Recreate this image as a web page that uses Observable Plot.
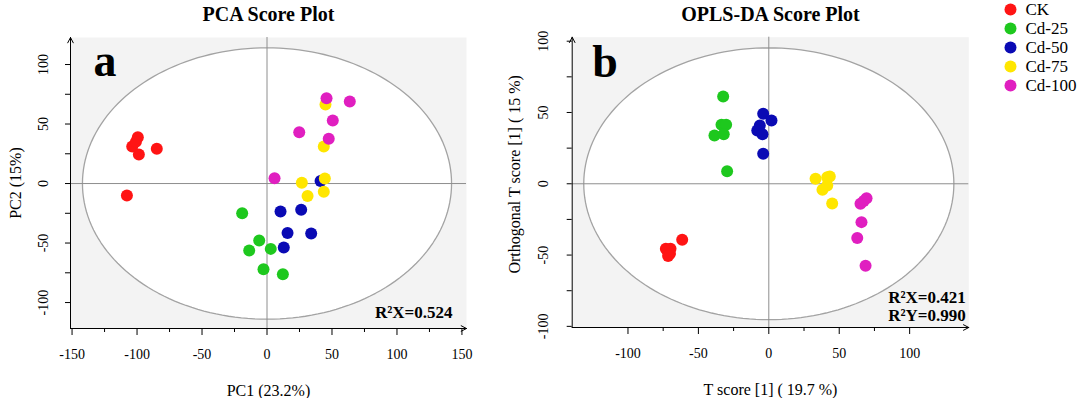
<!DOCTYPE html>
<html><head><meta charset="utf-8">
<script src="https://cdn.jsdelivr.net/npm/d3@7"></script>
<script src="https://cdn.jsdelivr.net/npm/@observablehq/plot@0.6"></script>
<style>
html,body{margin:0;padding:0;background:#fff;}
#wrap{position:relative;width:1080px;height:398px;overflow:hidden;font-family:"Liberation Serif","Times New Roman",serif;}
#wrap svg{position:absolute;top:0;}
</style></head><body><div id="wrap"></div>
<script>
const groups = ["CK", "Cd-25", "Cd-50", "Cd-75", "Cd-100"];
const colors = ["#ff1414", "#1ec81e", "#0a0ab4", "#ffe600", "#e01fc0"];

// PCA scores [PC1, PC2]
const ckPCA    = [[-99.4, 38.9], [-103.7, 31.1], [-100.9, 35], [-98.6, 24.4], [-84.8, 29.2], [-107.8, -10.1]];
const cd25PCA  = [[-19.1, -25], [-6, -47.9], [-13.7, -56.3], [2.9, -54.9], [-2.7, -72], [12.2, -76.2]];
const cd50PCA  = [[10.4, -23.5], [26.3, -22.1], [15.8, -41.5], [34, -42], [12.9, -53.8], [41.2, 2.2]];
const cd75PCA  = [[45, 66.4], [43.7, 31.1], [26.8, 0.6], [44.5, 4.2], [31.2, -10.4], [43.7, -7]];
const cd100PCA = [[45.8, 71.7], [63.7, 68.9], [50.6, 52.9], [24.8, 43.1], [47.5, 37.6], [5.8, 4.5]];

// OPLS-DA scores [T score, Orthogonal T score]
const ckOPLS    = [[-61.5, -39.3], [-73.1, -45.6], [-69.8, -45.6], [-72, -47], [-70.2, -49], [-71.5, -50.7]];
const cd25OPLS  = [[-32.4, 61.2], [-33.6, 41.4], [-30.3, 41.4], [-38.6, 33.9], [-32, 34.8], [-29.6, 8.8]];
const cd50OPLS  = [[-4, 49.1], [1.9, 44.4], [-6.4, 40.9], [-8.2, 37.4], [-4.5, 34.8], [-4, 21]];
const cd75OPLS  = [[33.2, 3.5], [43.3, 5.1], [41.5, 4.6], [41.5, -1.2], [38.1, -4.2], [45, -13.8]];
const cd100OPLS = [[69.4, -10.1], [67.4, -12], [65.1, -14], [65.8, -26.9], [62.8, -38.1], [68.7, -57.5]];

const pcaXTicks = [-150, -100, -50, 0, 50, 100, 150];
const pcaXMinor = [-125, -75, -25, 25, 75, 125];
const pcaYTicks = [-100, -50, 0, 50, 100];
const pcaYMinor = [-75, -25, 25, 75];
const oplsXTicks = [-100, -50, 0, 50, 100];
const oplsXMinor = [-75, -25, 25, 75];
const oplsYTicks = [-100, -50, 0, 50, 100];
const oplsYMinor = [-75, -25, 25, 75];

// Hotelling T2 ellipse semi-axes (x, y)
const pcaEllipse = [142, 114];
const oplsEllipse = [131.4, 95.3];

function table(sets) {
  const rows = [];
  sets.forEach((s, i) => s.forEach(([x, y]) => rows.push({group: groups[i], x, y})));
  return rows;
}
function ellipse([a, b]) {
  const pts = [];
  for (let i = 0; i <= 180; i++) {
    const t = (i / 180) * 2 * Math.PI;
    pts.push({x: a * Math.cos(t), y: b * Math.sin(t)});
  }
  return pts;
}

const FONT = '"Liberation Serif","Times New Roman",serif';

function panel(o) {
  const xd = o.xDomain, yd = o.yDomain;
  const svg = Plot.plot({
    width: o.width, height: 398,
    marginLeft: o.ml, marginRight: o.mr, marginTop: o.mt, marginBottom: o.mb,
    style: {fontFamily: FONT, fontSize: "14px", background: "transparent", overflow: "visible"},
    x: {domain: xd, axis: null},
    y: {domain: yd, axis: null},
    color: {domain: groups, range: colors},
    marks: [
      Plot.frame({fill: "#f3f3f3", stroke: null}),
      Plot.line(ellipse(o.ell), {x: "x", y: "y", fill: "white", stroke: "#a3a3a3", strokeWidth: 1.3}),
      Plot.ruleX([0], {stroke: "#8e8e8e", strokeWidth: 1}),
      Plot.ruleY([0], {stroke: "#8e8e8e", strokeWidth: 1}),
      Plot.dot(o.data, {x: "x", y: "y", fill: "group", r: 6, stroke: null}),
      Plot.axisX({ticks: o.xTicks, tickSize: 7, tickPadding: 14, fontSize: 14, label: null, tickFormat: d => String(d)}),
      Plot.axisX({ticks: o.xMinor, tickSize: 4, label: null, tickFormat: () => ""}),
      Plot.axisY({ticks: o.yTicks, tickSize: 5, label: null, tickFormat: () => ""}),
      Plot.axisY({ticks: o.yMinor, tickSize: 5, label: null, tickFormat: () => ""}),
      Plot.text(o.yTicks, {y: d => d, text: d => String(d), frameAnchor: "left", dx: o.ytDx, rotate: -90, textAnchor: "middle", lineAnchor: "middle", fontSize: 14}),
      Plot.arrow([{x1: xd[0], y1: yd[0], x2: xd[0], y2: yd[1]}], {x1: "x1", y1: "y1", x2: "x2", y2: "y2", stroke: "black", strokeWidth: 1, headLength: 9, headAngle: 55}),
      Plot.arrow([{x1: xd[0], y1: yd[0], x2: xd[1], y2: yd[0]}], {x1: "x1", y1: "y1", x2: "x2", y2: "y2", stroke: "black", strokeWidth: 1, headLength: 9, headAngle: 55}),
      Plot.text([o.title], {text: d => d, frameAnchor: "top", dy: -23, lineAnchor: "middle", fontSize: 20, fontWeight: "bold"}),
      Plot.text([o.xLabel], {text: d => d, frameAnchor: "bottom", dy: 62, lineAnchor: "middle", fontSize: 16}),
      Plot.text([o.yLabel], {text: d => d, frameAnchor: "left", dx: o.ylDx, dy: o.ylDy, rotate: -90, textAnchor: "middle", lineAnchor: "middle", fontSize: 16}),
      Plot.text([o.letter], {text: d => d, frameAnchor: "top-left", dx: o.letterDx, dy: o.letterDy, textAnchor: "start", lineAnchor: "bottom", fontSize: 46, fontWeight: "bold"}),
      ...o.stats.map((s, i) => Plot.text([s], {text: d => d, frameAnchor: "bottom-right", dx: o.statDx, dy: o.statDy[i], textAnchor: "end", lineAnchor: "bottom", fontSize: 17, fontWeight: "bold"}))
    ]
  });
  svg.style.left = o.left + "px";
  return svg;
}

const wrap = document.getElementById("wrap");

wrap.appendChild(panel({
  left: 0, width: 500, ml: 70, mr: 34, mt: 37, mb: 70,
  xDomain: [-151.2, 153.5], yDomain: [-121.8, 122.7],
  data: table([ckPCA, cd25PCA, cd50PCA, cd75PCA, cd100PCA]),
  ell: pcaEllipse,
  xTicks: pcaXTicks, xMinor: pcaXMinor, yTicks: pcaYTicks, yMinor: pcaYMinor,
  ytDx: -27, ylDx: -55, ylDy: 0,
  title: "PCA Score Plot", xLabel: "PC1 (23.2%)", yLabel: "PC2 (15%)",
  letter: "a", letterDx: 23, letterDy: 38,
  stats: ["R²X=0.524"], statDx: -14, statDy: [-11]
}));

wrap.appendChild(panel({
  left: 490, width: 500, ml: 81.7, mr: 21.7, mt: 36.7, mb: 71,
  xDomain: [-139.6, 142], yDomain: [-100.8, 102.8],
  data: table([ckOPLS, cd25OPLS, cd50OPLS, cd75OPLS, cd100OPLS]),
  ell: oplsEllipse,
  xTicks: oplsXTicks, xMinor: oplsXMinor, yTicks: oplsYTicks, yMinor: oplsYMinor,
  ytDx: -28.7, ylDx: -57, ylDy: -8,
  title: "OPLS-DA Score Plot", xLabel: "T score [1] ( 19.7 %)", yLabel: "Orthogonal T score [1] ( 15 %)",
  letter: "b", letterDx: 20, letterDy: 40,
  stats: ["R²X=0.421", "R²Y=0.990"], statDx: -3, statDy: [-25, -7]
}));

const legend = Plot.plot({
  width: 80, height: 100, margin: 0,
  style: {fontFamily: FONT, background: "transparent", overflow: "visible"},
  y: {type: "point", domain: groups, range: [8, 86], padding: 0, axis: null},
  color: {domain: groups, range: colors},
  marks: [
    Plot.dot(groups, {y: d => d, fill: d => d, r: 6, frameAnchor: "left", dx: 6}),
    Plot.text(groups, {y: d => d, text: d => d, frameAnchor: "left", dx: 21, textAnchor: "start", fontSize: 17})
  ]
});
legend.style.left = "1004px";
wrap.appendChild(legend);
</script>
</body></html>
